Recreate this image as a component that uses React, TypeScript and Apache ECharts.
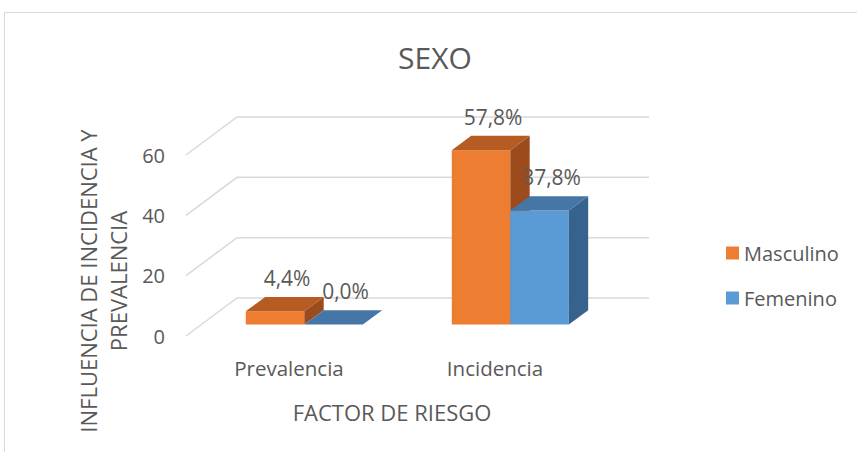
import React, { useEffect, useRef } from "react";
import * as echarts from "echarts";

const categories = ["Prevalencia", "Incidencia"];
const masculino = [4.4, 57.8];
const femenino = [0.0, 37.8];
const seriesNames = ["Masculino", "Femenino"];
const yTicks = [0, 20, 40, 60];

const FONT = "'Open Sans', 'Noto Sans', sans-serif";
const TXT = "#595959";
const GRID = "#d9d9d9";

// 3D depth vector (front plane -> back wall), in pixels
const DX = 51;
const DY = -38;
const BAR_FRONT = 0.3; // depth fraction where bar front face sits
const BAR_DEPTH = 0.38; // depth fraction of bar thickness
const BAR_W = 58.5;

const faces = [
  { front: "#ED7D31", top: "#B65B22", side: "#9B4B1C" },
  { front: "#5B9BD5", top: "#4676A6", side: "#37628D" },
];

const fmt = (v: number) => v.toFixed(1).replace(".", ",") + "%";

export default function App() {
  const ref = useRef<HTMLDivElement>(null);
  useEffect(() => {
    if (!ref.current) return;
    const chart = echarts.init(ref.current, null, { renderer: "svg" });

    const barSeries = (si: number, values: number[]) => ({
      type: "custom",
      name: seriesNames[si],
      clip: false,
      z: 3 + si,
      itemStyle: { color: faces[si].front },
      data: values.map((v, i) => [i, v]),
      renderItem: (params: any, api: any) => {
        const idx = api.value(0);
        const v = api.value(1);
        const p0 = api.coord([idx, 0]);
        const pv = api.coord([idx, v]);
        const h = p0[1] - pv[1];
        const cx = p0[0];
        const fx0 = cx + BAR_FRONT * DX + (si === 0 ? -BAR_W : 0);
        const fyB = p0[1] + BAR_FRONT * DY;
        const fyT = fyB - h;
        const bx = BAR_DEPTH * DX;
        const by = BAR_DEPTH * DY;
        const f = faces[si];
        const children: any[] = [];
        if (h > 0) {
          children.push({
            type: "rect",
            shape: { x: fx0, y: fyT, width: BAR_W, height: h },
            style: { fill: f.front },
          });
          children.push({
            type: "polygon",
            shape: {
              points: [
                [fx0 + BAR_W, fyT],
                [fx0 + BAR_W + bx, fyT + by],
                [fx0 + BAR_W + bx, fyB + by],
                [fx0 + BAR_W, fyB],
              ],
            },
            style: { fill: f.side },
          });
        }
        children.push({
          type: "polygon",
          shape: {
            points: [
              [fx0, fyT],
              [fx0 + BAR_W, fyT],
              [fx0 + BAR_W + bx, fyT + by],
              [fx0 + bx, fyT + by],
            ],
          },
          style: { fill: f.top },
        });
        children.push({
          type: "text",
          x: fx0 + BAR_W / 2 + 12,
          y: fyT + by - 19,
          z2: 10,
          style: {
            text: fmt(v),
            fill: TXT,
            fontSize: 21,
            fontFamily: FONT,
            align: "center",
            verticalAlign: "middle",
          },
        });
        return { type: "group", children };
      },
    });

    const option: any = {
      animation: false,
      backgroundColor: "#ffffff",
      title: {
        text: "SEXO",
        left: 435,
        top: 42,
        textAlign: "center",
        padding: 0,
        textStyle: { fontFamily: FONT, fontSize: 30, fontWeight: "normal", color: TXT },
      },
      legend: {
        orient: "vertical",
        left: 721,
        top: 238,
        itemWidth: 13,
        itemHeight: 13,
        itemGap: 25,
        icon: "rect",
        data: seriesNames,
        textStyle: { fontFamily: FONT, fontSize: 20, color: TXT },
      },
      grid: { left: 186, top: 155, width: 412, height: 181, containLabel: false },
      xAxis: {
        type: "category",
        data: categories,
        boundaryGap: true,
        axisLine: { show: false },
        axisTick: { show: false },
        splitLine: { show: false },
        axisLabel: { margin: 21, fontFamily: FONT, fontSize: 20.5, color: TXT },
        name: "FACTOR DE RIESGO",
        nameLocation: "middle",
        nameGap: 65,
        nameTextStyle: { fontFamily: FONT, fontSize: 22, color: TXT },
      },
      yAxis: {
        type: "value",
        min: 0,
        max: 60,
        interval: 20,
        axisLine: { show: false },
        axisTick: { show: false },
        splitLine: { show: false },
        axisLabel: { margin: 21, fontFamily: FONT, fontSize: 20, color: TXT },
      },
      graphic: [
        {
          type: "rect",
          shape: { x: 4.5, y: 12.5, width: 900, height: 500 },
          style: { fill: "none", stroke: GRID, lineWidth: 1 },
          silent: true,
        },
        {
          type: "text",
          x: 103,
          y: 281,
          rotation: Math.PI / 2,
          style: {
            text: "INFLUENCIA DE INCIDENCIA Y\nPREVALENCIA",
            fill: TXT,
            fontSize: 22,
            fontFamily: FONT,
            lineHeight: 30,
            align: "center",
            verticalAlign: "middle",
          },
        },
      ],
      series: [
        {
          type: "custom",
          name: "grid3d",
          clip: false,
          z: 1,
          silent: true,
          data: yTicks.map((t) => [0, t]),
          renderItem: (params: any, api: any) => {
            const cs = params.coordSys;
            const y = api.coord([0, api.value(1)])[1];
            return {
              type: "polyline",
              shape: {
                points: [
                  [cs.x, y],
                  [cs.x + DX, y + DY],
                  [cs.x + cs.width + DX, y + DY],
                ],
              },
              style: { stroke: GRID, lineWidth: 1.5, fill: "none" },
            };
          },
        },
        barSeries(0, masculino),
        barSeries(1, femenino),
      ],
    };
    chart.setOption(option);
    return () => chart.dispose();
  }, []);
  return (
    <div
      ref={ref}
      style={{ position: "fixed", left: 0, top: 0, width: 857, height: 452, background: "#fff" }}
    />
  );
}
